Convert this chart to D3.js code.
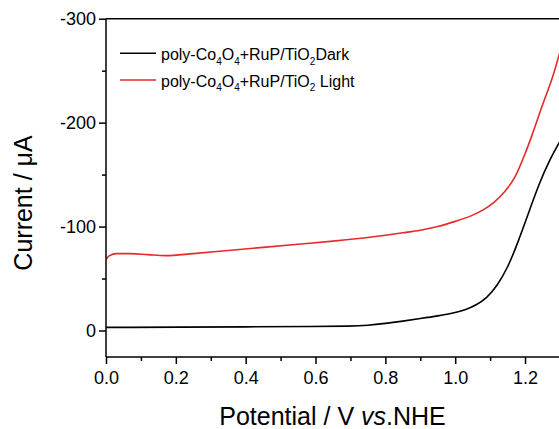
<!DOCTYPE html>
<html><head><meta charset="utf-8">
<script src="https://cdn.jsdelivr.net/npm/d3@7"></script>
<style>body{margin:0;background:#fff}svg{display:block}text{font-family:"Liberation Sans",Arial,sans-serif;fill:#000}</style>
</head><body><div id="c"></div>
<script>
const darkV = [0, 0.05, 0.2, 0.4, 0.6, 0.7, 0.75, 0.8, 0.85, 0.9, 0.95, 1.0, 1.03, 1.06, 1.09, 1.12, 1.15, 1.18, 1.21, 1.24, 1.27, 1.3];
const darkI = [-3, -3, -3.2, -3.5, -3.8, -4.1, -4.9, -6.8, -9, -11.5, -14, -17, -20, -24.5, -31, -43, -60, -85, -113, -141, -164, -182];
const lightV = [0, 0.01, 0.03, 0.07, 0.12, 0.17, 0.25, 0.35, 0.45, 0.55, 0.65, 0.75, 0.85, 0.9, 0.95, 1.0, 1.05, 1.08, 1.11, 1.14, 1.17, 1.2, 1.22, 1.25, 1.28, 1.3];
const lightI = [-68.5, -72, -74, -74, -73, -72, -74, -77, -80, -83, -86, -89.5, -94, -96.5, -100, -105, -111, -116, -123, -133, -147, -170, -188, -217, -245, -268];
const xTicks = [0, 0.2, 0.4, 0.6, 0.8, 1.0, 1.2];
const xMinor = [0.1, 0.3, 0.5, 0.7, 0.9, 1.1, 1.3];
const yTicks = [0, -100, -200, -300];
const yMinor = [-50, -150, -250];
const legendNames = [["poly-Co","4","O","4","+RuP/TiO","2","Dark"],["poly-Co","4","O","4","+RuP/TiO","2"," Light"]];
const colors = ["#000000", "#e8292b"];

const W = 559, H = 429;
const svg = d3.select("#c").append("svg").attr("width", W).attr("height", H);
const x = d3.scaleLinear().domain([0, 1.3]).range([106, 106 + 1.3 * 349.2]);
const y = d3.scaleLinear().domain([0, -300]).range([330.5, 18.7]);
const yBottom = 357;

svg.append("defs").append("clipPath").attr("id", "clip")
  .append("rect").attr("x", 106).attr("y", 18).attr("width", W - 106).attr("height", yBottom - 18);

const series = [darkV.map((v, i) => [v, darkI[i]]), lightV.map((v, i) => [v, lightI[i]])];
const curves = [d3.curveBasis, d3.curveMonotoneX];
const g = svg.append("g").attr("clip-path", "url(#clip)");
series.forEach((s, i) => {
  g.append("path").datum(s)
    .attr("d", d3.line().x(d => x(d[0])).y(d => y(d[1])).curve(curves[i]))
    .attr("fill", "none").attr("stroke", colors[i]).attr("stroke-width", 1.6);
});

const hyphenInt = d => String(Math.round(d));
// axes
const gx = svg.append("g").attr("transform", `translate(0,${yBottom})`)
  .call(d3.axisBottom(x).tickValues(xTicks).tickFormat(d => d.toFixed(1)).tickSize(7).tickPadding(7));
svg.append("g").attr("transform", `translate(0,${yBottom})`)
  .call(d3.axisBottom(x).tickValues(xMinor).tickFormat("").tickSize(4)).select(".domain").remove();
const gy = svg.append("g").attr("transform", "translate(106,0)")
  .call(d3.axisLeft(y).tickValues(yTicks).tickFormat(hyphenInt).tickSize(7).tickPadding(3));
svg.append("g").attr("transform", "translate(106,0)")
  .call(d3.axisLeft(y).tickValues(yMinor).tickFormat("").tickSize(4)).select(".domain").remove();
gy.select(".domain").attr("d", `M0,${y(-300)}V${yBottom}`);
gx.select(".domain").attr("d", `M${x(0)},0H${W}`);
svg.selectAll(".tick line, .domain").attr("stroke", "#000").attr("stroke-width", 1.5);
svg.selectAll(".tick text").style("font-size", "18px").style("font-family", "Liberation Sans, Arial, sans-serif");
gy.selectAll(".tick text").attr("dy", "0.34em");
svg.append("line").attr("x1", 106).attr("x2", W).attr("y1", y(-300)).attr("y2", y(-300))
  .attr("stroke", "#000").attr("stroke-width", 1.5);

// titles
svg.append("text").attr("x", 332.5).attr("y", 425).attr("text-anchor", "middle").style("font-size", "25px")
  .call(t => { t.append("tspan").text("Potential / V "); t.append("tspan").style("font-style", "italic").text("vs"); t.append("tspan").text(".NHE"); });
svg.append("text").attr("transform", "translate(32,203) rotate(-90)").attr("text-anchor", "middle")
  .style("font-size", "25px").text("Current / μA");

// legend
const lg = svg.append("g");
legendNames.forEach((parts, i) => {
  const ly = 53.3 + i * 26.7;
  lg.append("line").attr("x1", 120).attr("x2", 156).attr("y1", ly).attr("y2", ly)
    .attr("stroke", colors[i]).attr("stroke-width", 1.6);
  const t = lg.append("text").attr("x", 161).attr("y", ly + 6.7).style("font-size", "16px");
  parts.forEach((p, j) => {
    const sub = j % 2 === 1;
    t.append("tspan").attr("dy", sub ? 4.5 : (j === 0 ? 0 : -4.5)).style("font-size", sub ? "10px" : "16px").text(p);
  });
});
</script></body></html>
